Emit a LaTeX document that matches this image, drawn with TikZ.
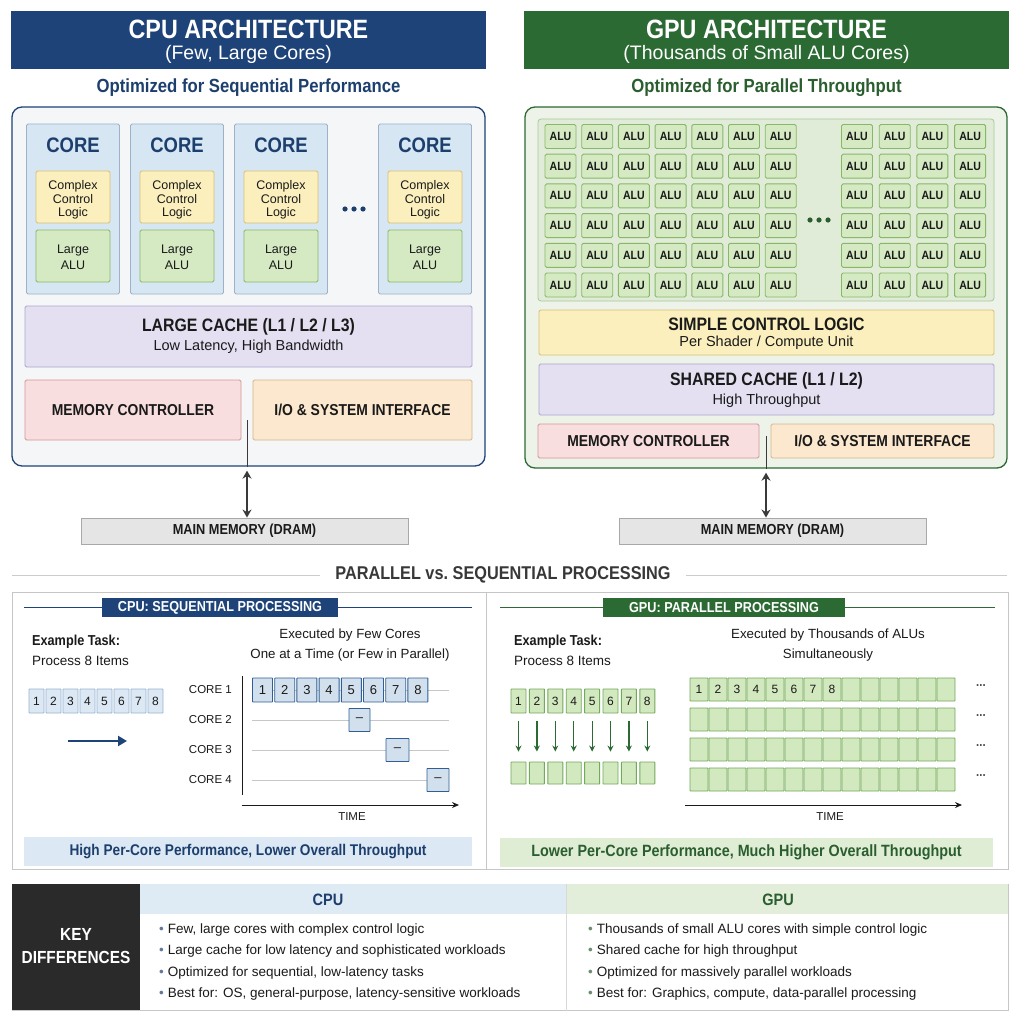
\documentclass[tikz,border=0pt]{standalone}
\usepackage{fontspec}
\setmainfont[BoldFeatures={FakeStretch=0.88}]{Liberation Sans}
\usetikzlibrary{arrows.meta,positioning,calc}

\definecolor{cpudark}{HTML}{1E4378}
\definecolor{gpudark}{HTML}{2C6A33}
\definecolor{cputext}{HTML}{1D3F6E}
\definecolor{gputext}{HTML}{2A5E2F}
\definecolor{corefill}{HTML}{D7E6F3}
\definecolor{coreline}{HTML}{9DB2C6}
\definecolor{ctrlfill}{HTML}{FBF0BD}
\definecolor{ctrlline}{HTML}{D4BE78}
\definecolor{alufill}{HTML}{D5EAC3}
\definecolor{aluline}{HTML}{86B867}
\definecolor{cachefill}{HTML}{E4E0F2}
\definecolor{cacheline}{HTML}{ABA4CE}
\definecolor{memfill}{HTML}{F8DEDE}
\definecolor{memline}{HTML}{D59595}
\definecolor{iofill}{HTML}{FBE8CE}
\definecolor{ioline}{HTML}{D4B68C}
\definecolor{dramfill}{HTML}{E5E5E5}
\definecolor{dramline}{HTML}{A8A8A8}
\definecolor{cpupanel}{HTML}{F4F6F8}
\definecolor{gpupanel}{HTML}{EDF3E9}
\definecolor{alubg}{HTML}{E1ECD8}
\definecolor{alubgline}{HTML}{A9C99A}
\definecolor{panelline}{HTML}{C6C6C6}
\definecolor{txt}{HTML}{1A1A1A}
\definecolor{seqfill}{HTML}{DCE8F4}
\definecolor{seqline}{HTML}{97B3CF}
\definecolor{seqdark}{HTML}{2F5F95}
\definecolor{parfill}{HTML}{D2E8BF}
\definecolor{parline}{HTML}{72A95B}
\definecolor{cpubanner}{HTML}{DCE8F3}
\definecolor{gpubanner}{HTML}{E0EDD5}
\definecolor{keyblack}{HTML}{2A2A2A}
\definecolor{cpuhead}{HTML}{DEEAF4}
\definecolor{gpuhead}{HTML}{E3EEDA}
\definecolor{arrowgray}{HTML}{3A3A3A}

\newcommand{\fsz}[2]{\fontsize{#1}{#2}\selectfont}

\tikzset{
  blk/.style={draw, inner sep=0pt, align=center, line width=0.9pt, rounded corners=1.5pt, text=txt},
  titlebar/.style={fill=#1, inner sep=0pt, minimum height=58},
  corebox/.style={blk, fill=corefill, draw=coreline, minimum width=93, minimum height=170},
  ctrlbox/.style={blk, fill=ctrlfill, draw=ctrlline, minimum width=74, minimum height=52},
  alubig/.style={blk, fill=alufill, draw=aluline, minimum width=74, minimum height=52},
  alucell/.style={blk, fill=alufill, draw=aluline, minimum width=31, minimum height=24, font=\bfseries\fsz{12}{12}},
  cachebox/.style={blk, fill=cachefill, draw=cacheline},
  membox/.style={blk, fill=memfill, draw=memline, font=\bfseries\fsz{15.8}{16}},
  iobox/.style={blk, fill=iofill, draw=ioline, font=\bfseries\fsz{15.8}{16}},
  drambox/.style={blk, fill=dramfill, draw=dramline, minimum height=26, font=\bfseries\fsz{14.5}{15}, rounded corners=0pt},
  bus/.style={draw=arrowgray, line width=0.7pt},
  dblarrow/.style={draw=arrowgray, line width=1.8pt, {Stealth[length=8pt,width=9pt]}-{Stealth[length=8pt,width=9pt]}},
  tag/.style={fill=#1, text=white, inner sep=0pt, minimum height=19, font=\bfseries\fsz{14.4}{15}},
  seqitem/.style={blk, fill=seqfill, draw=seqline, minimum width=15, minimum height=24, font=\fsz{12}{13}, rounded corners=0.5pt},
  seqcell/.style={blk, fill=seqfill!85!seqline, draw=seqdark, minimum width=20, minimum height=24, font=\fsz{13}{14}, rounded corners=0.5pt},
  paritem/.style={blk, fill=parfill, draw=parline, minimum width=15, minimum height=24, font=\fsz{12}{13}, rounded corners=0.5pt},
  parcell/.style={blk, fill=parfill, draw=parline, minimum width=18, minimum height=23, rounded corners=0.5pt},
  lane/.style={draw=black!22, line width=0.9pt},
  axis/.style={draw=txt, line width=1pt},
  plain/.style={text=txt, inner sep=0pt},
  banner/.style={fill=#1, inner sep=0pt, minimum height=29},
}

\begin{document}
\begin{tikzpicture}[x=1pt,y=-1pt]
\fill[white] (0,0) rectangle (1024,1024);
\useasboundingbox (0,0) rectangle (1024,1024);

% ---------- CPU architecture ----------
\node[titlebar=cpudark, minimum width=475] (cputitle) at (248.5,40) {};
\node[text=white, font=\bfseries\fsz{26.5}{28}] (cpuhead) at (248.5,29) {CPU ARCHITECTURE};
\node[text=white, font=\fsz{19.5}{22}] (cpusub) at (248.5,54) {(Few, Large Cores)};
\node[text=cputext, font=\bfseries\fsz{19}{20}] (cpuopt) at (248.5,88) {Optimized for Sequential Performance};

\node[draw=cpudark, fill=cpupanel, line width=1.3pt, rounded corners=10pt,
      minimum width=473, minimum height=359, inner sep=0pt] (cpupanel) at (248.5,286.5) {};

\foreach \cx [count=\i] in {73,177,281,425}{
  \node[corebox] (core\i) at (\cx,209) {};
  \node[text=cputext, font=\bfseries\fsz{21}{22}] (corelbl\i) at (\cx,145) {CORE};
  \node[ctrlbox] (ctrl\i) at (\cx,197) {};
  \node[plain, align=center, font=\fsz{12.5}{13.5}] (ctrlt\i) at (\cx,200) {Complex\\Control\\Logic};
  \node[alubig] (alu\i) at (\cx,256) {};
  \node[plain, align=center, font=\fsz{12.5}{16.5}] (alut\i) at (\cx,257.5) {Large\\ALU};
}
\foreach \dx in {-9,0,9}
  \fill[cputext] ({354+\dx},209) circle (2.6pt);

\node[cachebox, minimum width=447, minimum height=61] (cpucache) at (248.5,336.5) {};
\node[plain, font=\bfseries\fsz{18}{18}] (cpucachet) at (248.5,327) {LARGE CACHE (L1 / L2 / L3)};
\node[plain, font=\fsz{14.5}{16}] (cpucaches) at (248.5,347) {Low Latency, High Bandwidth};

\node[membox, minimum width=216, minimum height=60] (cpumem) at (133,410) {MEMORY CONTROLLER};
\node[iobox, minimum width=219, minimum height=60] (cpuio) at (362.5,410) {I/O \& SYSTEM INTERFACE};

\node[drambox, minimum width=327] (cpudram) at (244.5,531) {MAIN MEMORY (DRAM)};
\coordinate (cpubus) at (247,420);
\draw[bus] (cpubus) -- (cpubus |- cpupanel.south);
\draw[dblarrow] ([yshift=-4pt]cpubus |- cpupanel.south) -- (cpubus |- cpudram.north);

% ---------- GPU architecture ----------
\node[titlebar=gpudark, minimum width=485] (gputitle) at (766.5,40) {};
\node[text=white, font=\bfseries\fsz{26.5}{28}] (gpuhead) at (766.5,29) {GPU ARCHITECTURE};
\node[text=white, font=\fsz{19.5}{22}] (gpusub) at (766.5,54) {(Thousands of Small ALU Cores)};
\node[text=gputext, font=\bfseries\fsz{19}{20}] (gpuopt) at (766.5,88) {Optimized for Parallel Throughput};

\node[draw=gpudark, fill=gpupanel, line width=1.3pt, rounded corners=10pt,
      minimum width=482, minimum height=361, inner sep=0pt] (gpupanel) at (766,287.5) {};
\node[draw=alubgline, fill=alubg, line width=0.8pt, rounded corners=3pt,
      minimum width=456, minimum height=182, inner sep=0pt] (alugrid) at (766,210) {};

\foreach \r in {0,...,5}{
  \foreach \c in {0,...,6}
    \node[alucell] (alul-\r-\c) at ({560.5+36.7*\c},{136.5+29.7*\r}) {ALU};
  \foreach \c in {0,...,3}
    \node[alucell] (alur-\r-\c) at ({857+37.7*\c},{136.5+29.7*\r}) {ALU};
}
\foreach \dx in {-9,0,9}
  \fill[gputext] ({819+\dx},220) circle (2.6pt);

\node[blk, fill=ctrlfill, draw=ctrlline, minimum width=455, minimum height=45] (gpuctrl) at (766.5,332.5) {};
\node[plain, font=\bfseries\fsz{18}{18}] (gpuctrlt) at (766.5,324) {SIMPLE CONTROL LOGIC};
\node[plain, font=\fsz{14.5}{16}] (gpuctrls) at (766.5,343) {Per Shader / Compute Unit};

\node[cachebox, minimum width=455, minimum height=51] (gpucache) at (766.5,389.5) {};
\node[plain, font=\bfseries\fsz{18}{18}] (gpucachet) at (766.5,381) {SHARED CACHE (L1 / L2)};
\node[plain, font=\fsz{14.5}{16}] (gpucaches) at (766.5,401) {High Throughput};

\node[membox, minimum width=221, minimum height=34] (gpumem) at (648.5,441) {MEMORY CONTROLLER};
\node[iobox, minimum width=223, minimum height=34] (gpuio) at (882.5,441) {I/O \& SYSTEM INTERFACE};

\node[drambox, minimum width=307] (gpudram) at (772.5,531) {MAIN MEMORY (DRAM)};
\coordinate (gpubus) at (766,436);
\draw[bus] (gpubus) -- (gpubus |- gpupanel.south);
\draw[dblarrow] ([yshift=-4pt]gpubus |- gpupanel.south) -- (gpubus |- gpudram.north);

% ---------- parallel vs sequential ----------
\node[text=black!78, font=\bfseries\fsz{18.5}{19}] (pvs) at (503,575) {PARALLEL vs.\ SEQUENTIAL PROCESSING};
\coordinate (pvsl) at (12,575);
\coordinate (pvsr) at (1007,575);
\draw[draw=black!20, line width=0.8pt] (pvsl) -- ([xshift=-12pt]pvs.west);
\draw[draw=black!20, line width=0.8pt] ([xshift=12pt]pvs.east) -- (pvsr);

\node[draw=panelline, fill=white, line width=1pt, minimum width=474, minimum height=277, inner sep=0pt] (seqpanel) at (249,730.5) {};
\node[draw=panelline, fill=white, line width=1pt, minimum width=522, minimum height=277, inner sep=0pt] (parpanel) at (747,730.5) {};

% CPU: sequential
\coordinate (seqll) at (24,607.5);
\coordinate (seqlr) at (472,607.5);
\draw[cpudark, line width=0.8pt] (seqll) -- (seqlr);
\node[tag=cpudark, minimum width=236] (seqtag) at (220,607.5) {CPU: SEQUENTIAL PROCESSING};

\node[plain, anchor=west, font=\bfseries\fsz{14.4}{15}] (seqtask) at (32,642) {Example Task:};
\node[plain, anchor=west, font=\fsz{13.5}{15}] (seqitems) at (32,661) {Process 8 Items};
\foreach \k in {1,...,8}
  \node[seqitem] (sitem\k) at ({19.5+17*\k},701) {\k};
\coordinate (seqa) at (68,741);
\coordinate (seqb) at (127,741);
\draw[cpudark, line width=2.2pt, -{Triangle[length=9pt,width=10pt]}] (seqa) -- (seqb);

\node[plain, font=\fsz{13.3}{15}] (seqex1) at (350,635) {Executed by Few Cores};
\node[plain, font=\fsz{13.3}{15}] (seqex2) at (350,655) {One at a Time (or Few in Parallel)};

\foreach \k in {1,...,4}{
  \node[plain, anchor=east, font=\fsz{11.5}{13}] (clbl\k) at (232,{660+30*\k}) {CORE \k};
  \draw[lane] (252,{660+30*\k}) -- (449,{660+30*\k});
}
\draw[axis] (242,676) -- (242,795);
\coordinate (tax0) at (242,805);
\coordinate (tax1) at (459,805);
\draw[axis, -{Stealth[length=7pt,width=6pt]}] (tax0) -- (tax1);
\node[plain, font=\fsz{11.5}{13}] (seqtime) at (352,817) {TIME};

\foreach \k in {1,...,8}
  \node[seqcell] (sc\k) at ({240.3+22.2*\k},690) {\k};
\node[seqcell, minimum width=21, minimum height=23] (sc2x) at (359.5,720) {--};
\node[seqcell, minimum width=23, minimum height=23] (sc3x) at (397.5,750) {--};
\node[seqcell, minimum width=22, minimum height=23] (sc4x) at (438,780) {--};

\node[banner=cpubanner, minimum width=448, text=cputext, font=\bfseries\fsz{15.5}{17}] (seqban) at (248,851.5)
  {High Per-Core Performance, Lower Overall Throughput};

% GPU: parallel
\coordinate (parll) at (500,607.5);
\coordinate (parlr) at (995,607.5);
\draw[gpudark, line width=0.8pt] (parll) -- (parlr);
\node[tag=gpudark, minimum width=242] (partag) at (724,607.5) {GPU: PARALLEL PROCESSING};

\node[plain, anchor=west, font=\bfseries\fsz{14.4}{15}] (partask) at (514,642) {Example Task:};
\node[plain, anchor=west, font=\fsz{13.5}{15}] (paritems) at (514,661) {Process 8 Items};
\foreach \k in {1,...,8}{
  \node[paritem] (pitem\k) at ({500.1+18.4*\k},701) {\k};
  \node[paritem, minimum height=22] (pout\k) at ({500.1+18.4*\k},773) {};
  \draw[gpudark, line width=1.2pt, -{Stealth[length=6pt,width=6pt]}, shorten <=8pt, shorten >=10pt] (pitem\k) -- (pout\k);
}

\node[plain, font=\fsz{13.3}{15}] (parex1) at (828,635) {Executed by Thousands of ALUs};
\node[plain, font=\fsz{13.3}{15}] (parex2) at (828,655) {Simultaneously};

\foreach \r in {0,...,3}{
  \foreach \c in {0,...,13}
    \node[parcell] (pc-\r-\c) at ({699+19*\c},{689.5+30*\r}) {};
  \node[text=black!70, font=\bfseries\fsz{13}{13}] (pdots\r) at (981,{686+30*\r}) {...};
}
\foreach \k in {1,...,8}
  \node[plain, font=\fsz{12}{13}] (pn\k) at ({680+19*\k},689.5) {\k};

\coordinate (pax0) at (685,805);
\coordinate (pax1) at (962,805);
\draw[axis, -{Stealth[length=7pt,width=6pt]}] (pax0) -- (pax1);
\node[plain, font=\fsz{11.5}{13}] (partime) at (830,817) {TIME};

\node[banner=gpubanner, minimum width=493, text=gputext, font=\bfseries\fsz{16.3}{17}] (parban) at (746.5,852)
  {Lower Per-Core Performance, Much Higher Overall Throughput};

% ---------- key differences ----------
\node[draw=panelline, line width=1pt, minimum width=996, minimum height=126, inner sep=0pt] (keytab) at (510,947) {};
\node[fill=keyblack, minimum width=128, minimum height=126, inner sep=0pt] (keycell) at (76,947) {};
\node[text=white, align=center, font=\bfseries\fsz{17.5}{23}] (keytxt) at (76,946.5) {KEY\\DIFFERENCES};
\node[fill=cpuhead, minimum width=427, minimum height=30, inner sep=0pt] (cpuhd) at (353.5,899) {};
\node[fill=gpuhead, minimum width=441, minimum height=30, inner sep=0pt] (gpuhd) at (787.5,899) {};
\node[text=cputext, font=\bfseries\fsz{16.5}{18}] (cpuhdt) at (328,900) {CPU};
\node[text=gputext, font=\bfseries\fsz{16.5}{18}] (gpuhdt) at (778,900) {GPU};
\draw[draw=black!15, line width=0.8pt] (gpuhd.north west) -- (gpuhd.west |- keytab.south);

\foreach \t [count=\i] in {{Few, large cores with complex control logic},
                          {Large cache for low latency and sophisticated workloads},
                          {Optimized for sequential, low-latency tasks},
                          {Best for: OS, general-purpose, latency-sensitive workloads}}
  \node[plain, anchor=west, font=\fsz{13.5}{15}] (cpub\i) at (159,{908.7+21.3*\i}) {\textcolor{cputext!70}{•}\hspace{4pt}\t};
\foreach \t [count=\i] in {{Thousands of small ALU cores with simple control logic},
                          {Shared cache for high throughput},
                          {Optimized for massively parallel workloads},
                          {Best for: Graphics, compute, data-parallel processing}}
  \node[plain, anchor=west, font=\fsz{13.5}{15}] (gpub\i) at (588,{908.7+21.3*\i}) {\textcolor{gputext!70}{•}\hspace{4pt}\t};

\end{tikzpicture}
\end{document}
